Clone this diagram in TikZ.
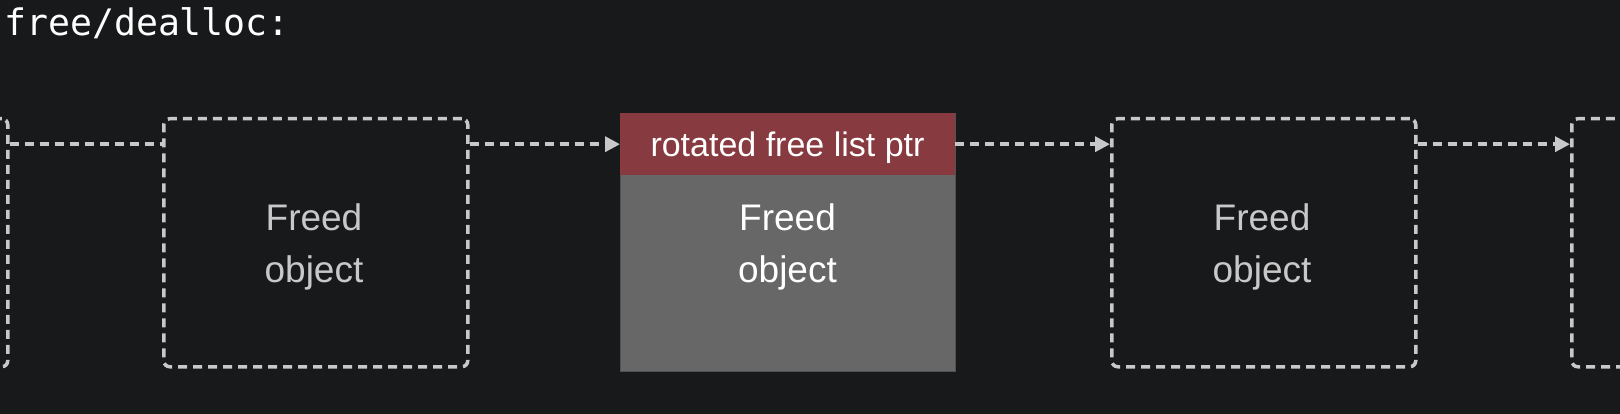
\documentclass[tikz,border=0pt]{standalone}
\usepackage{fontspec}
\setmainfont{Liberation Sans}
\newfontfamily\codefont{DejaVu Sans Mono}
\usetikzlibrary{arrows.meta}
\definecolor{bg}{HTML}{18191B}
\definecolor{dashcol}{HTML}{C8C8C8}
\definecolor{hdrred}{HTML}{873A3F}
\definecolor{bodygray}{HTML}{676767}
\definecolor{softtext}{HTML}{C8C8C8}
\tikzset{
  slot/.style={draw=dashcol, line width=3.5pt, dash pattern=on 9pt off 6pt,
    rounded corners=6pt, rectangle, minimum width=304pt, minimum height=248pt,
    inner sep=0pt, anchor=north west},
  conn/.style={draw=dashcol, line width=3.5pt, dash pattern=on 9pt off 6pt},
  tip/.style={-{Triangle[length=15pt,width=15pt]}},
  lbl/.style={font=\fontsize{37}{44}\selectfont, anchor=base, inner sep=0pt},
}
\begin{document}
\begin{tikzpicture}[x=1pt,y=-1pt]
\fill[bg] (0,0) rectangle (1620,414);
\useasboundingbox (0,0) rectangle (1620,414);
\clip (0,0) rectangle (1620,414);
\node[anchor=base west, inner sep=0pt, text=white, font=\codefont\fontsize{36.5}{42}\selectfont] (title) at (4,36) {free/dealloc:};
% dashed slots
\node[slot] (b1) at (-298,117) {};
\node[slot] (b2) at (162,117) {};
\node[slot] (b4) at (1110,117) {};
\node[slot] (b5) at (1570,117) {};
% central object
\node[fill=bodygray, draw=bodygray!80!black, line width=0.6pt, rectangle, minimum width=335pt, minimum height=258pt, inner sep=0pt, anchor=north west] (obj) at (620,113) {};
\node[fill=hdrred, rectangle, minimum width=335pt, minimum height=62pt, inner sep=0pt, anchor=north west] (hdr) at (620,113) {};
\node[anchor=base, inner sep=0pt, text=white, font=\fontsize{34}{40}\selectfont] (hdrtxt) at (787.5,157) {rotated free list ptr};
% labels
\node[lbl, text=softtext] (f2a) at (314,231) {Freed};
\node[lbl, text=softtext] (f2b) at (314,282) {object};
\node[lbl, text=white] (fca) at (787.5,231) {Freed};
\node[lbl, text=white] (fcb) at (787.5,282) {object};
\node[lbl, text=softtext] (f4a) at (1262,231) {Freed};
\node[lbl, text=softtext] (f4b) at (1262,282) {object};
% connectors
\draw[conn] (b1.east |- hdr.west) -- (b2.west |- hdr.west);
\draw[conn, tip] (b2.east |- hdr.west) -- (hdr.west);
\draw[conn, tip] (hdr.east) -- (b4.west |- hdr.east);
\draw[conn, tip] (b4.east |- hdr.east) -- (b5.west |- hdr.east);
\end{tikzpicture}
\end{document}
